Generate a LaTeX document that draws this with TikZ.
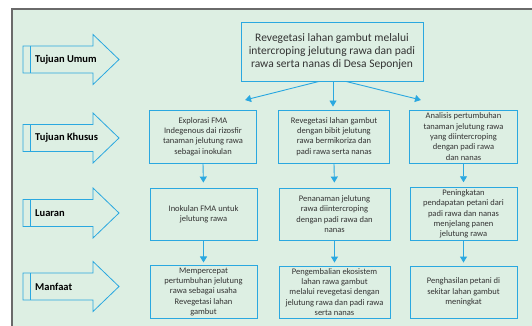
\documentclass[tikz,border=0pt]{standalone}
\usepackage{fontspec}
\setmainfont{Carlito}
\usepackage{tikz}
\usetikzlibrary{arrows.meta}
\usetikzlibrary{positioning}

\definecolor{bgreen}{HTML}{DDEFE3}
\definecolor{lblue}{HTML}{2AA8E0}
\definecolor{fgray}{HTML}{6A6A6A}
\definecolor{tgray}{HTML}{333333}

\tikzset{
  box/.style={draw=lblue,line width=0.9pt,fill=bgreen,text=tgray,align=center,
    font=\fontsize{8.5}{10.3}\selectfont,inner sep=2pt,minimum height=52pt},
  flow/.style={draw=lblue,line width=0.9pt,-{Triangle[width=7pt,length=6pt]}},
  tag/.style={draw=lblue,line width=0.8pt,fill=bgreen},
  tagtext/.style={font=\fontsize{10.5}{12}\selectfont\bfseries,anchor=west,inner sep=0pt}
}

\begin{document}
\begin{tikzpicture}[x=1pt,y=-1pt]
  \useasboundingbox (0,0) rectangle (532,326);
  \fill[white] (0,0) rectangle (532,326);
  \fill[bgreen] (12,9) rectangle (532,326);
  \draw[fgray,line width=1.5pt] (12,326) -- (12,9) -- (532,9);

  % label arrows on the left
  \foreach \c/\txt/\nm in {59.5/Tujuan Umum/tu, 138/Tujuan Khusus/tk, 213/Luaran/lu, 286.5/Manfaat/mf}{
    \draw[tag] (23,\c-13.5) -- (93,\c-13.5) -- (93,\c-25) -- (119,\c) -- (93,\c+25)
      -- (93,\c+13.5) -- (23,\c+13.5) -- cycle;
    \draw[tag] (30,\c-13.5) -- (30,\c+13.5);
    \node[tagtext] (\nm) at (35,\c) {\txt};
  }

  % top box
  \node[box,font=\fontsize{11.5}{13}\selectfont,minimum width=182pt,minimum height=59pt] (top) at (332,51.5)
    {Revegetasi lahan gambut melalui\\intercroping jelutung rawa dan padi\\rawa serta nanas di Desa Seponjen};

  % tujuan khusus
  \node[box,minimum width=107pt,minimum height=53pt] (k1) at (203,136.5)
    {Explorasi FMA\\Indegenous dai rizosfir\\tanaman jelutung rawa\\sebagai inokulan};
  \node[box,minimum width=111pt,minimum height=53pt] (k2) at (334,136.5)
    {Revegetasi lahan gambut\\dengan bibit jelutung\\rawa bermikoriza dan\\padi rawa serta nanas};
  \node[box,minimum width=108pt,minimum height=53pt] (k3) at (463.5,136.5)
    {Analisis pertumbuhan\\tanaman jelutung rawa\\yang diintercroping\\dengan padi rawa\\dan nanas};

  % luaran
  \node[box,minimum width=107pt] (l1) at (203.5,214) {Inokulan FMA untuk\\jelutung rawa};
  \node[box,minimum width=111pt] (l2) at (334.5,214)
    {Penanaman jelutung\\rawa diintercroping\\dengan padi rawa dan\\nanas};
  \node[box,minimum width=107pt] (l3) at (463.5,214)
    {Peningkatan\\pendapatan petani dari\\padi rawa dan nanas\\menjelang panen\\jelutung rawa};

  % manfaat
  \node[box,minimum width=107pt] (m1) at (203.5,292)
    {Mempercepat\\pertumbuhan jelutung\\rawa sebagai usaha\\Revegetasi lahan\\gambut};
  \node[box,minimum width=111pt] (m2) at (334.5,292)
    {Pengembalian ekosistem\\lahan rawa gambut\\melalui revegetasi dengan\\jelutung rawa dan padi rawa\\serta nanas};
  \node[box,minimum width=107pt] (m3) at (463.5,292)
    {Penghasilan petani di\\sekitar lahan gambut\\meningkat};

  % arrows from top box
  \coordinate (aL) at (245,100);
  \coordinate (aR) at (421,100);
  \draw[flow] ([xshift=-13pt]top.south) -- (aL);
  \draw[flow,shorten >=3pt] ([xshift=1pt]top.south) -- ([xshift=1pt]top.south |- k2.north);
  \draw[flow] ([xshift=14pt]top.south) -- (aR);

  % down arrows
  \draw[flow,shorten >=5pt] (k1.south) -- (l1.north);
  \draw[flow,shorten >=5pt] (k2.south) -- (l2.north);
  \draw[flow,shorten >=5pt] (k3.south) -- (l3.north);
  \draw[flow,shorten >=3pt] (l1.south) -- (m1.north);
  \draw[flow,shorten >=3pt] (l2.south) -- (m2.north);
  \draw[flow,shorten >=3pt] (l3.south) -- (m3.north);
\end{tikzpicture}
\end{document}
